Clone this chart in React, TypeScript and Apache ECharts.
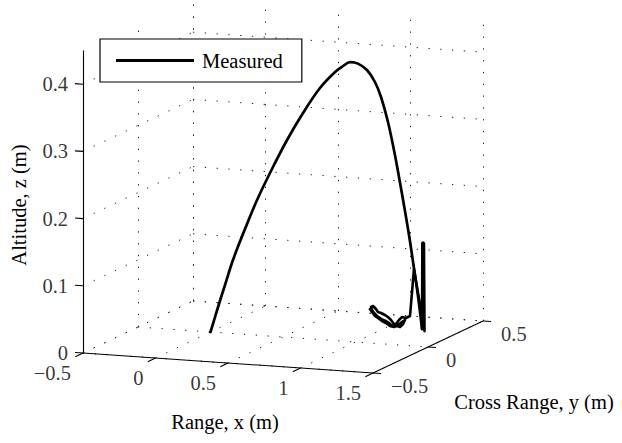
import React, { useEffect, useRef } from 'react';
import * as echarts from 'echarts';

// ---- axis definitions ----
const xLim = [-0.5, 1.5];
const yLim = [-0.5, 0.5];
const zLim = [0, 0.45];
const xTicks = [-0.5, 0, 0.5, 1, 1.5];
const yTicks = [-0.5, 0, 0.5];
const zTicks = [0, 0.1, 0.2, 0.3, 0.4];
const xTickLabels = ['−0.5', '0', '0.5', '1', '1.5'];
const yTickLabels = ['−0.5', '0', '0.5'];
const zTickLabels = ['0', '0.1', '0.2', '0.3', '0.4'];

// ---- measured trajectory, flight phase (x: range, y: cross range, z: altitude), metres ----
const flightX = [0.0, 0.021, 0.052, 0.1, 0.155, 0.238, 0.321, 0.424, 0.528, 0.638, 0.755, 0.859, 0.914, 0.962, 1.017, 1.079, 1.134, 1.176, 1.224, 1.272, 1.328, 1.369, 1.403, 1.431, 1.459];
const flightY = [0, 0, 0, 0, 0, 0, 0, 0, 0, 0, 0, 0, 0, 0, 0, 0, 0, 0, 0, 0, 0, 0, 0, 0, 0];
const flightZ = [0.0, 0.0152, 0.038, 0.0714, 0.1094, 0.1568, 0.2012, 0.2489, 0.2936, 0.3354, 0.3743, 0.3997, 0.4094, 0.4158, 0.4145, 0.4059, 0.3889, 0.3672, 0.3307, 0.2823, 0.2162, 0.1647, 0.1161, 0.0749, 0.0262];

// ---- measured trajectory, landing phase ----
const landX = [1.459, 1.461, 1.466, 1.472, 1.476, 1.403, 1.376, 1.348, 1.321, 1.3, 1.279, 1.252, 1.231, 1.21, 1.19, 1.169, 1.148, 1.128, 1.114, 1.107, 1.121, 1.141, 1.155, 1.176, 1.203, 1.224, 1.245, 1.266, 1.286, 1.307, 1.328, 1.341, 1.321, 1.293, 1.266, 1.238, 1.21, 1.183, 1.155, 1.134, 1.114, 1.1];
const landY = [0, 0, 0, 0, 0, 0, 0, 0, 0, 0, 0, 0, 0, 0, 0, 0, 0, 0, 0, 0, 0, 0, 0, 0, 0, 0, 0, 0, 0, 0, 0, 0, 0, 0, 0, 0, 0, 0, 0, 0, 0, 0];
const landZ = [0.0262, 0.1543, 0.1548, 0.154, 0.0233, 0.1146, 0.0443, 0.0409, 0.042, 0.0372, 0.0309, 0.0276, 0.0317, 0.0344, 0.0356, 0.0382, 0.0409, 0.0451, 0.0493, 0.0537, 0.0554, 0.0512, 0.0469, 0.0458, 0.0432, 0.0405, 0.0364, 0.0307, 0.0281, 0.0269, 0.0317, 0.0378, 0.0345, 0.0297, 0.0263, 0.0274, 0.0314, 0.034, 0.038, 0.0407, 0.0463, 0.0506];

// ---- view (orthographic projection of the 3-D box) ----
const VIEW = { ux: 145, uy: 110, vx: -10, vy: 52, vz: 672 };
const proj = (x: number, y: number, z: number): [number, number] => [
  (x - xLim[0]) * VIEW.ux + (y - yLim[0]) * VIEW.uy,
  z * VIEW.vz + (x - xLim[0]) * VIEW.vx + (y - yLim[0]) * VIEW.vy,
];

const FONT = 'Liberation Serif';
const FS = 20.5;

export default function App() {
  const ref = useRef<HTMLDivElement>(null);
  useEffect(() => {
    if (!ref.current) return;
    const chart = echarts.init(ref.current, undefined, { renderer: 'svg' });
    const [x0, x1] = xLim;
    const [y0, y1] = yLim;
    const zMax = zLim[1];

    const seg = (a: [number, number, number], b: [number, number, number]) => ({
      coords: [proj(a[0], a[1], a[2]), proj(b[0], b[1], b[2])],
    });

    const grid: any[] = [];
    xTicks.forEach((x) => grid.push(seg([x, y0, 0], [x, y1, 0])));
    yTicks.forEach((y) => grid.push(seg([x0, y, 0], [x1, y, 0])));
    xTicks.forEach((x) => grid.push(seg([x, y1, 0], [x, y1, zMax])));
    zTicks.forEach((z) => grid.push(seg([x0, y1, z], [x1, y1, z])));
    yTicks.forEach((y) => grid.push(seg([x0, y, 0], [x0, y, zMax])));
    zTicks.forEach((z) => grid.push(seg([x0, y0, z], [x0, y1, z])));

    const axes: any[] = [
      seg([x0, y0, 0], [x1, y0, 0]),
      seg([x1, y0, 0], [x1, y1, 0]),
      seg([x0, y0, 0], [x0, y0, zMax]),
    ];
    xTicks.forEach((x) => axes.push(seg([x, y0, 0], [x, y0 - 0.07, 0])));
    yTicks.forEach((y) => axes.push(seg([x1, y, 0], [x1 + 0.055, y, 0])));
    zTicks.forEach((z) => axes.push(seg([x0, y0, z], [x0 - 0.055, y0, z])));

    const labelBase = { show: true, fontFamily: FONT, fontSize: FS, color: '#000' };
    const measuredStyle = {
      name: 'Measured',
      type: 'line', silent: true, z: 5, clip: false,
      showSymbol: false, symbol: 'none',
      color: '#000',
      itemStyle: { color: '#000' },
    };

    const option: any = {
      animation: false,
      backgroundColor: '#fff',
      grid: { left: 0, right: 0, top: 0, bottom: 0 },
      xAxis: { type: 'value', min: -83, max: 539, show: false },
      yAxis: { type: 'value', min: -90, max: 353, show: false },
      legend: {
        data: ['Measured'],
        left: 100,
        top: 39,
        padding: [11, 19, 11, 16],
        itemWidth: 78,
        itemHeight: 3,
        icon: 'rect',
        borderColor: '#000',
        borderWidth: 1.2,
        backgroundColor: '#fff',
        selectedMode: false,
        z: 10,
        textStyle: { fontFamily: FONT, fontSize: FS, color: '#000', padding: [0, 0, 0, 3] },
      },
      graphic: [
        {
          type: 'text', x: 19, y: 205, rotation: Math.PI / 2, z: 10,
          style: { text: 'Altitude, z (m)', fontFamily: FONT, fontSize: FS, fill: '#000', align: 'center', verticalAlign: 'middle' },
        },
        {
          type: 'text', x: 225, y: 422, z: 10,
          style: { text: 'Range, x (m)', fontFamily: FONT, fontSize: FS, fill: '#000', align: 'center', verticalAlign: 'middle' },
        },
        {
          type: 'text', x: 534, y: 402, z: 10,
          style: { text: 'Cross Range, y (m)', fontFamily: FONT, fontSize: FS, fill: '#000', align: 'center', verticalAlign: 'middle' },
        },
      ],
      series: [
        {
          type: 'lines', coordinateSystem: 'cartesian2d', silent: true, z: 1,
          lineStyle: { color: '#222', width: 1, type: [1.3, 10.5], opacity: 1 },
          data: grid,
        },
        {
          type: 'lines', coordinateSystem: 'cartesian2d', silent: true, z: 2,
          lineStyle: { color: '#000', width: 1.1, type: 'solid', opacity: 1 },
          data: axes,
        },
        {
          type: 'scatter', silent: true, symbolSize: 0, z: 3,
          data: zTicks.map((z, i) => [...proj(x0, y0, z), zTickLabels[i]]),
          label: { ...labelBase, position: 'left', distance: 15, formatter: (p: any) => p.value[2] },
        },
        {
          type: 'scatter', silent: true, symbolSize: 0, z: 3,
          data: xTicks.map((x, i) => [...proj(x, y0, 0), xTickLabels[i]]),
          label: { ...labelBase, position: 'left', distance: 12, offset: [0, 20], formatter: (p: any) => p.value[2] },
        },
        {
          type: 'scatter', silent: true, symbolSize: 0, z: 3,
          data: yTicks.map((y, i) => [...proj(x1, y, 0), yTickLabels[i]]),
          label: { ...labelBase, position: 'right', distance: 18, offset: [0, 13], formatter: (p: any) => p.value[2] },
        },
        {
          ...measuredStyle,
          smooth: 0.35,
          lineStyle: { color: '#000', width: 2.7, join: 'round', cap: 'round' },
          data: flightX.map((x, i) => proj(x, flightY[i], flightZ[i])),
        },
        {
          ...measuredStyle,
          lineStyle: { color: '#000', width: 2.6, join: 'round', cap: 'round' },
          data: landX.map((x, i) => proj(x, landY[i], landZ[i])),
        },
      ],
    };
    chart.setOption(option);
    return () => chart.dispose();
  }, []);
  return <div ref={ref} style={{ position: 'absolute', left: 0, top: 0, width: 622, height: 443 }} />;
}
